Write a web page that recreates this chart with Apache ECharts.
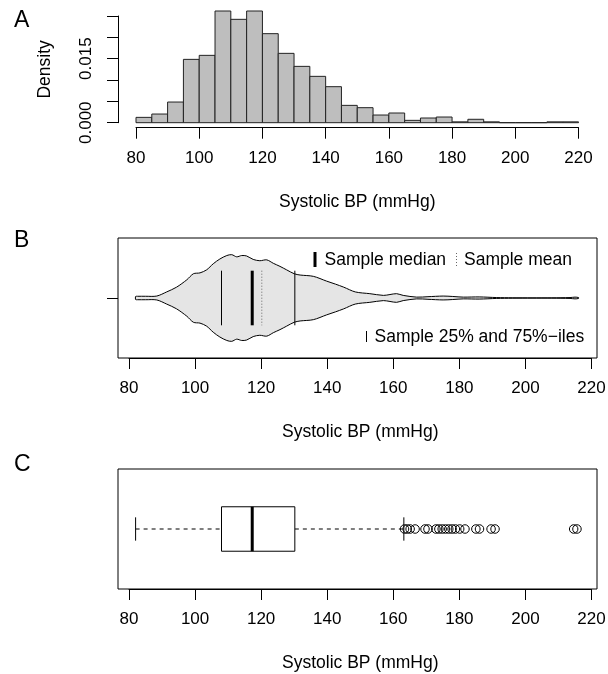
<!DOCTYPE html>
<html>
<head>
<meta charset="utf-8">
<script src="https://cdn.jsdelivr.net/npm/echarts@6/dist/echarts.min.js"></script>
<style>
  html, body { margin: 0; padding: 0; background: #fff; }
  #chart { width: 608px; height: 674px; }
</style>
</head>
<body>
<div id="chart"></div>
<script>
// panel A: histogram, 5 mmHg bins
var binLeft = [80, 85, 90, 95, 100, 105, 110, 115, 120, 125, 130, 135, 140, 145,
               150, 155, 160, 165, 170, 175, 180, 185, 190, 195, 200, 205, 210, 215];
var binWidth = 5;
var density = [0.00125, 0.00203, 0.00484, 0.01484, 0.01578, 0.02617, 0.02422, 0.02617,
               0.02086, 0.01625, 0.0132, 0.01086, 0.00844, 0.00406, 0.00352, 0.0018,
               0.00227, 0.00055, 0.0011, 0.00133, 0.0002, 0.0008, 0.0002, 0, 0, 0, 0.0002, 0.0002];
var densityLabels = ['0.000', '0.015'];

// panel B: violin outline (relative half width) + summary lines
var violinX = [82.0, 82.6, 85.0, 88.4, 91.4, 94.4, 97.5, 99.5, 101.5, 103.5, 105.5, 107.5,
               109.6, 111.1, 112.6, 114.1, 115.6, 117.6, 119.6, 121.7, 123.7, 125.7, 127.7,
               130.0, 131.8, 135.8, 139.8, 142.5, 145.0, 148.5, 152.9, 157.0, 159.0, 161.0,
               163.0, 167.1, 170.5, 175.1, 178.0, 181.2, 186.0, 191.3, 196.0, 202.0, 208.0,
               213.5, 215.0, 216.1];
var violinHalf = [0.035, 0.04, 0.04, 0.045, 0.14, 0.25, 0.42, 0.56, 0.58, 0.65, 0.79, 0.90,
                  0.98, 1.0, 0.95, 0.98, 0.97, 0.89, 0.86, 0.88, 0.80, 0.73, 0.65,
                  0.56, 0.53, 0.50, 0.39, 0.32, 0.25, 0.14, 0.10, 0.06, 0.08, 0.10,
                  0.06, 0.02, 0.03, 0.045, 0.035, 0.02, 0.025, 0.01, 0.005, 0.003, 0.004,
                  0.01, 0.02, 0.01];
var quartiles = [108, 130.2];
var sampleMedian = 117.3;
var sampleMean = 120.2;

// panel C: boxplot (min whisker, q1, median, q3, max whisker) and outliers
var boxStats = [82, 108, 117.3, 130.2, 163.2];
var outliers = [163.4, 164.2, 165.1, 166.6, 169.6, 170.5, 172.9, 173.8, 174.8, 175.8,
                176.8, 177.8, 178.8, 180.1, 181.7, 185.0, 186.1, 189.6, 190.8, 214.6, 215.6];

var FONT = '"Liberation Sans", Arial, Helvetica, sans-serif';
var violinScale = 0.39;

function bpAxis(gridIndex, offset) {
  return {
    type: 'value', gridIndex: gridIndex, min: 80, max: 220, interval: 20, offset: offset,
    axisLine: { show: true, onZero: false, lineStyle: { color: '#000', width: 1 } },
    axisTick: { show: true, length: 11, lineStyle: { color: '#000', width: 1 } },
    axisLabel: { color: '#000', fontSize: 17, fontFamily: FONT, margin: 22, showMinLabel: true, showMaxLabel: true },
    splitLine: { show: false },
    name: 'Systolic BP (mmHg)', nameLocation: 'middle', nameGap: 65,
    nameTextStyle: { color: '#000', fontSize: 17.5, fontFamily: FONT }
  };
}

var chart = echarts.init(document.getElementById('chart'));
chart.setOption({
  animation: false,
  backgroundColor: '#fff',
  grid: [
    { left: 136, right: 29.5, top: 16, height: 106.7, outerBoundsMode: 'none' },
    { left: 118, right: 11, top: 238, height: 120, show: true, borderColor: '#000', borderWidth: 1, backgroundColor: 'transparent', outerBoundsMode: 'none' },
    { left: 129, right: 16.5, top: 238, height: 120, outerBoundsMode: 'none' },
    { left: 118, right: 11, top: 469, height: 120, show: true, borderColor: '#000', borderWidth: 1, backgroundColor: 'transparent', outerBoundsMode: 'none' },
    { left: 129, right: 16.5, top: 469, height: 120, outerBoundsMode: 'none' }
  ],
  xAxis: [bpAxis(0, 5), bpAxis(2, 0), bpAxis(4, 0)],
  yAxis: [
    {
      type: 'value', gridIndex: 0, min: 0, max: 0.025, interval: 0.005, offset: 18,
      axisLine: { show: true, lineStyle: { color: '#000', width: 1 } },
      axisTick: { show: true, length: 11, lineStyle: { color: '#000', width: 1 } },
      axisLabel: {
        color: '#000', fontSize: 17, fontFamily: FONT, rotate: 90, margin: 23,
        showMinLabel: true, showMaxLabel: true,
        formatter: function (v) {
          var s = v.toFixed(3);
          return densityLabels.indexOf(s) >= 0 ? s : '';
        }
      },
      splitLine: { show: false },
      name: 'Density', nameLocation: 'middle', nameGap: 64, nameRotate: 90,
      nameTextStyle: { color: '#000', fontSize: 17.5, fontFamily: FONT }
    },
    {
      type: 'value', gridIndex: 2, min: 0.46, max: 1.54, offset: 11,
      axisLine: { show: false },
      axisTick: { show: true, length: 11, customValues: [1], lineStyle: { color: '#000', width: 1 } },
      axisLabel: { show: false },
      splitLine: { show: false }
    },
    {
      type: 'value', gridIndex: 4, min: 0.46, max: 1.54, show: false,
      splitLine: { show: false }
    }
  ],
  series: [
    {
      name: 'hist', type: 'custom', xAxisIndex: 0, yAxisIndex: 0, silent: true, clip: false,
      data: binLeft.map(function (b, i) { return [b, b + binWidth, density[i]]; }),
      encode: { x: [0, 1], y: 2 },
      renderItem: function (params, api) {
        var p0 = api.coord([api.value(0), api.value(2)]);
        var p1 = api.coord([api.value(1), 0]);
        return {
          type: 'rect',
          shape: { x: p0[0], y: p0[1], width: p1[0] - p0[0], height: p1[1] - p0[1] },
          style: { fill: '#bebebe', stroke: '#222', lineWidth: 1 }
        };
      }
    },
    {
      name: 'violin', type: 'custom', xAxisIndex: 1, yAxisIndex: 1, silent: true,
      data: [[sampleMedian, 1]],
      encode: { x: 0, y: 1 },
      renderItem: function (params, api) {
        var up = [], down = [];
        for (var i = 0; i < violinX.length; i++) {
          up.push(api.coord([violinX[i], 1 + violinScale * violinHalf[i]]));
          down.push(api.coord([violinX[i], 1 - violinScale * violinHalf[i]]));
        }
        var pts = up.concat(down.reverse());
        var h = violinScale * 0.63;
        function seg(x, width, color, dash) {
          var a = api.coord([x, 1 + h]), b = api.coord([x, 1 - h]);
          return {
            type: 'line',
            shape: { x1: a[0], y1: a[1], x2: b[0], y2: b[1] },
            style: { stroke: color, lineWidth: width, lineDash: dash || null }
          };
        }
        return {
          type: 'group',
          children: [
            { type: 'polygon', shape: { points: pts, smooth: 0.3 }, style: { fill: '#e5e5e5', stroke: '#000', lineWidth: 1 } },
            seg(quartiles[0], 1, '#000'),
            seg(quartiles[1], 1, '#000'),
            seg(sampleMedian, 3, '#000'),
            seg(sampleMean, 1, '#666', [1, 2])
          ]
        };
      }
    },
    {
      name: 'box', type: 'custom', xAxisIndex: 2, yAxisIndex: 2, silent: true,
      data: [boxStats],
      encode: { x: [0, 1, 2, 3, 4] },
      renderItem: function (params, api) {
        var s = boxStats;
        function ln(xa, ya, xb, yb, width, dash) {
          var a = api.coord([xa, ya]), b = api.coord([xb, yb]);
          return {
            type: 'line',
            shape: { x1: a[0], y1: a[1], x2: b[0], y2: b[1] },
            style: { stroke: '#000', lineWidth: width, lineDash: dash || null }
          };
        }
        var tl = api.coord([s[1], 1.2]), br = api.coord([s[3], 0.8]);
        return {
          type: 'group',
          children: [
            ln(s[0], 1, s[1], 1, 1, [4, 4]),
            ln(s[3], 1, s[4], 1, 1, [4, 4]),
            ln(s[0], 0.895, s[0], 1.105, 1),
            ln(s[4], 0.895, s[4], 1.105, 1),
            { type: 'rect', shape: { x: tl[0], y: tl[1], width: br[0] - tl[0], height: br[1] - tl[1] },
              style: { fill: '#fff', stroke: '#000', lineWidth: 1 } },
            ln(s[2], 0.8, s[2], 1.2, 3)
          ]
        };
      }
    },
    {
      name: 'outliers', type: 'scatter', xAxisIndex: 2, yAxisIndex: 2, silent: true,
      data: outliers.map(function (v) { return [v, 1]; }),
      symbol: 'circle', symbolSize: 8.5,
      itemStyle: { color: 'rgba(0,0,0,0)', borderColor: '#000', borderWidth: 1, opacity: 1 }
    }
  ],
  graphic: [
    { type: 'text', x: 14, y: 21, style: { text: 'A', fontSize: 23, fontFamily: FONT, fill: '#000', align: 'left', verticalAlign: 'middle' } },
    { type: 'text', x: 14, y: 241, style: { text: 'B', fontSize: 23, fontFamily: FONT, fill: '#000', align: 'left', verticalAlign: 'middle' } },
    { type: 'text', x: 14, y: 465, style: { text: 'C', fontSize: 23, fontFamily: FONT, fill: '#000', align: 'left', verticalAlign: 'middle' } },
    { type: 'line', shape: { x1: 315, y1: 252, x2: 315, y2: 267 }, style: { stroke: '#000', lineWidth: 3 } },
    { type: 'text', x: 324.5, y: 260, style: { text: 'Sample median', fontSize: 17.5, fontFamily: FONT, fill: '#000', align: 'left', verticalAlign: 'middle' } },
    { type: 'line', shape: { x1: 456.5, y1: 253, x2: 456.5, y2: 267 }, style: { stroke: '#666', lineWidth: 1, lineDash: [1, 2] } },
    { type: 'text', x: 464, y: 260, style: { text: 'Sample mean', fontSize: 17.5, fontFamily: FONT, fill: '#000', align: 'left', verticalAlign: 'middle' } },
    { type: 'line', shape: { x1: 366.5, y1: 331, x2: 366.5, y2: 342 }, style: { stroke: '#000', lineWidth: 1 } },
    { type: 'text', x: 374.5, y: 337.5, style: { text: 'Sample 25% and 75%\u2212iles', fontSize: 17.5, fontFamily: FONT, fill: '#000', align: 'left', verticalAlign: 'middle' } }
  ]
});
</script>
</body>
</html>
